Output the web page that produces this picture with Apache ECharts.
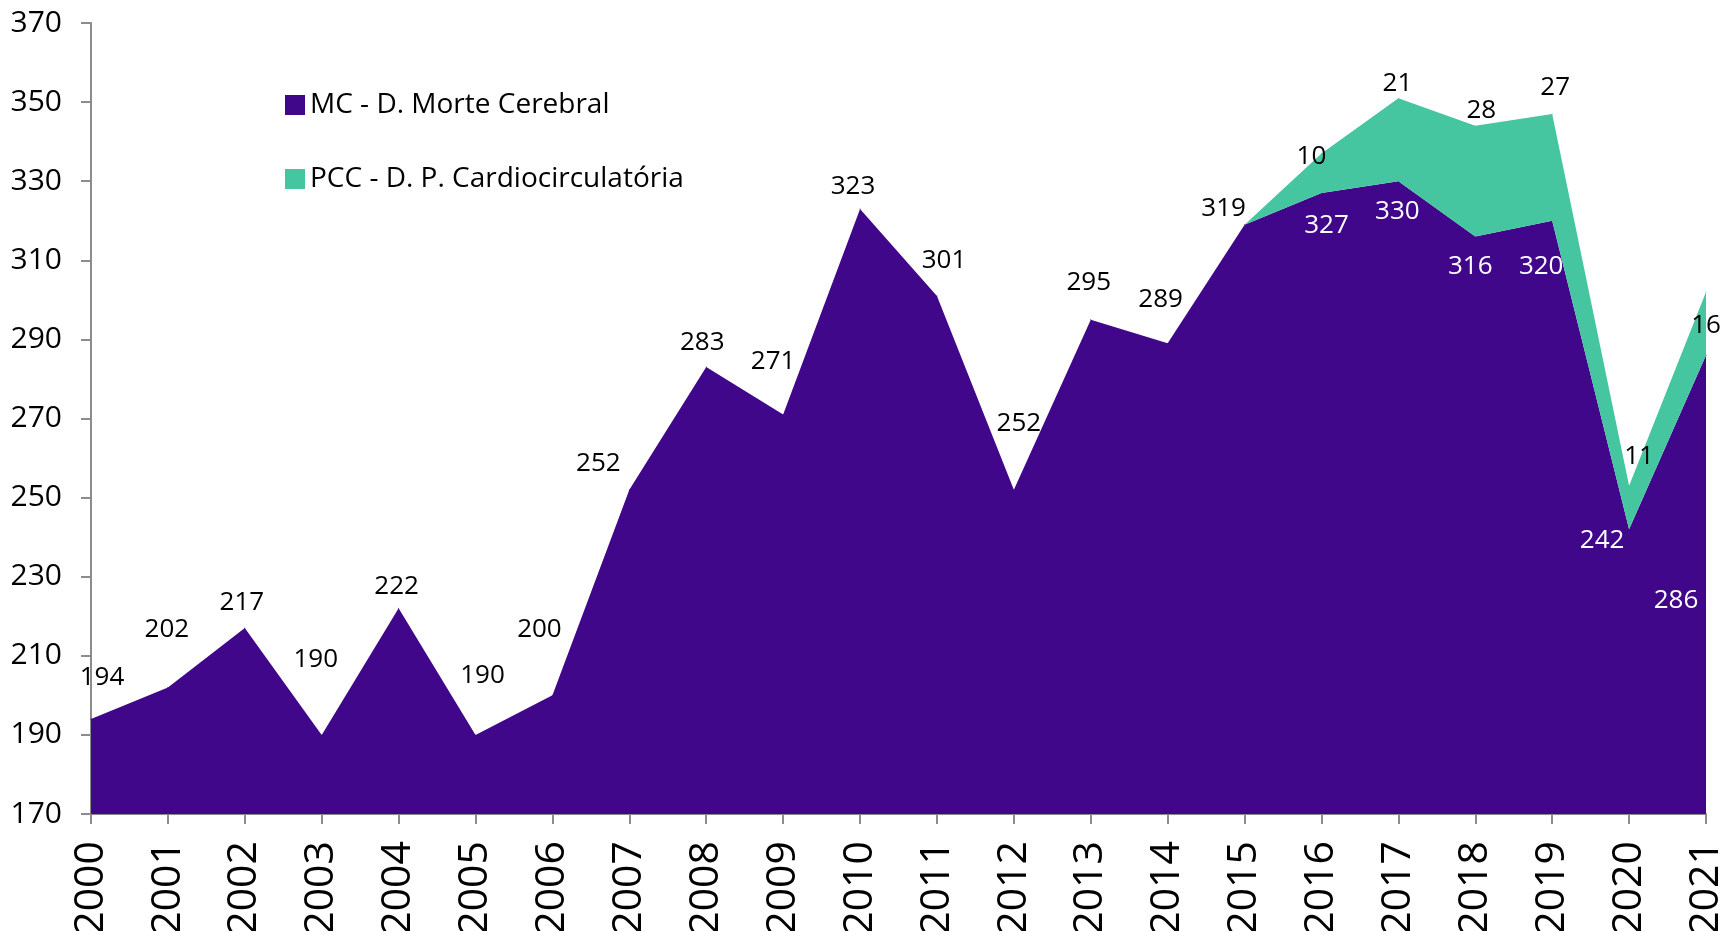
<!DOCTYPE html>
<html>
<head>
<meta charset="utf-8">
<script src="https://cdn.jsdelivr.net/npm/echarts@6/dist/echarts.min.js"></script>
<style>
  html, body { margin: 0; padding: 0; background: #fff; }
  #chart { width: 1725px; height: 931px; }
</style>
</head>
<body>
<div id="chart"></div>
<script>
// anos
var years = ['2000','2001','2002','2003','2004','2005','2006','2007','2008','2009','2010',
             '2011','2012','2013','2014','2015','2016','2017','2018','2019','2020','2021'];
// MC - D. Morte Cerebral
var mcValues = [194, 202, 217, 190, 222, 190, 200, 252, 283, 271, 323,
                301, 252, 295, 289, 319, 327, 330, 316, 320, 242, 286];
// PCC - D. P. Cardiocirculatória (só a partir de 2015)
var pccValues = [null, null, null, null, null, null, null, null, null, null, null,
                 null, null, null, null, 0, 10, 21, 28, 27, 11, 16];

// posição das etiquetas (como no Excel)
var mcLabelOffset = [[11,-41],[-1,-58],[-3,-26],[-6,-75],[-2,-22],[7,-59],[-13,-66],[-31,-26],
                     [-4,-24],[-10,-53],[-7,-22],[7,-35],[5,-66],[-2,-37],[-7,-44],[-21,-16],
                     [5,33],[-1,30],[-5,30],[-11,46],[-27,11],[-30,245]];
var pccLabelOffset = {16:[-10,3], 17:[-1,-15], 18:[6,-15], 19:[3,-26], 20:[10,-29], 21:[0,34]};

var FONT = '"Open Sans", "Noto Sans", sans-serif';
var PURPLE = '#41078A';
var GREEN = '#46C5A1';

var chart = echarts.init(document.getElementById('chart'));

var mcData = mcValues.map(function (v, i) {
    return {
        value: v,
        label: {
            offset: mcLabelOffset[i],
            color: i >= 16 ? '#fff' : '#000'
        }
    };
});

var pccData = pccValues.map(function (v, i) {
    var off = pccLabelOffset[i];
    return {
        value: v,
        label: { show: !!off, offset: off || [0, 0] }
    };
});

var option = {
    animation: false,
    backgroundColor: '#fff',
    grid: { left: 91, right: 19, top: 23, bottom: 117, containLabel: false, outerBoundsMode: 'none' },
    legend: {
        orient: 'vertical',
        left: 280,
        top: 86,
        itemWidth: 20,
        itemHeight: 20,
        itemGap: 46,
        icon: 'rect',
        textStyle: { fontFamily: FONT, fontSize: 28, color: '#000' },
        data: ['MC - D. Morte Cerebral', 'PCC - D. P. Cardiocirculatória']
    },
    xAxis: {
        type: 'category',
        data: years,
        boundaryGap: false,
        axisLine: { lineStyle: { color: '#8c8c8c', width: 2 } },
        axisTick: { show: true, length: 10, inside: false, lineStyle: { color: '#8c8c8c', width: 2 } },
        axisLabel: { rotate: 90, fontFamily: FONT, fontSize: 41, color: '#000', margin: 27, interval: 0 },
        splitLine: { show: false }
    },
    yAxis: {
        type: 'value',
        min: 170,
        max: 370,
        interval: 20,
        axisLine: { show: true, lineStyle: { color: '#8c8c8c', width: 2 } },
        axisTick: { show: true, length: 10, lineStyle: { color: '#8c8c8c', width: 2 } },
        axisLabel: { fontFamily: FONT, fontSize: 30, color: '#000', margin: 29 },
        splitLine: { show: false }
    },
    series: [
        {
            name: 'MC - D. Morte Cerebral',
            type: 'line',
            stack: 'total',
            data: mcData,
            symbol: 'circle',
            symbolSize: 1,
            showSymbol: true,
            itemStyle: { color: PURPLE },
            lineStyle: { width: 0, color: PURPLE },
            areaStyle: { color: PURPLE, opacity: 1 },
            label: {
                show: true,
                position: 'inside',
                fontFamily: FONT,
                fontSize: 26
            },
            z: 2
        },
        {
            name: 'PCC - D. P. Cardiocirculatória',
            type: 'line',
            stack: 'total',
            data: pccData,
            symbol: 'circle',
            symbolSize: 1,
            showSymbol: true,
            itemStyle: { color: GREEN },
            lineStyle: { width: 0, color: GREEN },
            areaStyle: { color: GREEN, opacity: 1 },
            label: {
                show: true,
                position: 'inside',
                fontFamily: FONT,
                fontSize: 26,
                color: '#000'
            },
            z: 3
        }
    ]
};

chart.setOption(option);
</script>
</body>
</html>
